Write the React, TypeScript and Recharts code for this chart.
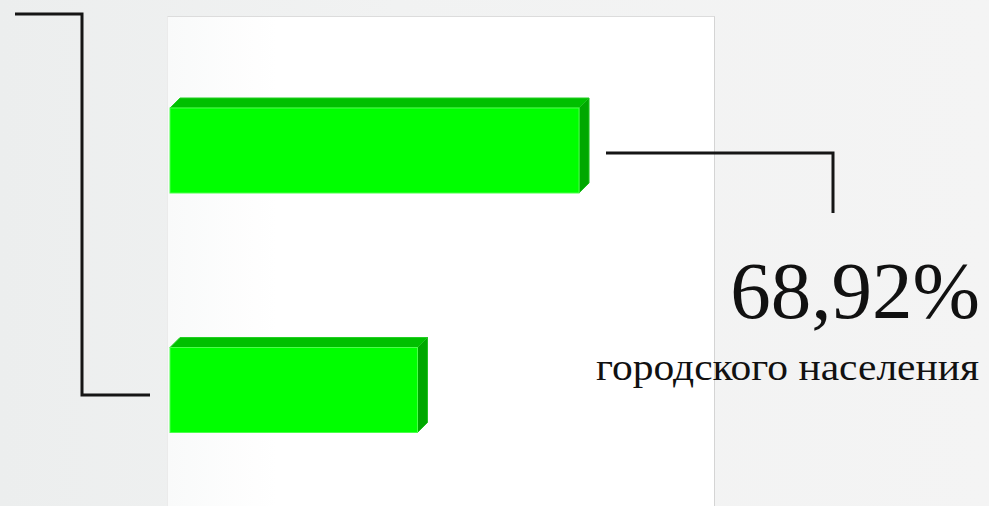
import { Bar, BarChart, XAxis, YAxis } from "recharts";

const categories = ["городское население", "сельское население"];
const shares = [68.92, 41.7];
const axisDomain = [0, 92];

const data = categories.map((name, i) => ({ name, value: shares[i] }));

const headline = `${shares[0].toFixed(2).replace(".", ",")}%`;

function Bar3D(props: any) {
  const { x, y, width, height } = props;
  const d = 10;
  return (
    <g>
      <path
        d={`M${x},${y} L${x + d},${y - d} L${x + width + d},${y - d} L${x + width},${y} Z`}
        fill="#00c000"
        stroke="#22d022"
        strokeWidth={1}
      />
      <path
        d={`M${x + width},${y} L${x + width + d},${y - d} L${x + width + d},${y + height - d} L${x + width},${y + height} Z`}
        fill="#00a800"
        stroke="#22c022"
        strokeWidth={1}
      />
      <rect x={x} y={y} width={width} height={height} fill="#00ff00" stroke="#4cff4c" strokeWidth={1} />
    </g>
  );
}

export default function App() {
  return (
    <div
      style={{
        position: "fixed",
        left: 0,
        top: 0,
        width: 989,
        height: 506,
        overflow: "hidden",
        background: "linear-gradient(90deg, #eceeee 0%, #f1f2f2 40%, #f4f4f4 100%)",
      }}
    >
      <div
        style={{
          position: "absolute",
          left: 167,
          top: 16,
          width: 546,
          height: 500,
          background: "linear-gradient(90deg, #f9fafa 0%, #ffffff 20%)",
          borderTop: "1px solid #dcdcdc",
          borderRight: "1px solid #d4d4d4",
          borderLeft: "1px solid #ebebeb",
        }}
      />
      <div style={{ position: "absolute", left: 0, top: 0 }}>
        <BarChart
          width={989}
          height={510}
          data={data}
          layout="vertical"
          margin={{ top: 31, right: 273, bottom: 0, left: 170 }}
        >
          <XAxis type="number" domain={axisDomain} hide />
          <YAxis type="category" dataKey="name" hide />
          <Bar dataKey="value" barSize={85} shape={<Bar3D />} isAnimationActive={false} />
        </BarChart>
      </div>
      <svg
        width={989}
        height={506}
        style={{ position: "absolute", left: 0, top: 0, pointerEvents: "none" }}
      >
        <polyline points="15,14 82,14 82,395 150,395" fill="none" stroke="#151515" strokeWidth={3} />
        <polyline points="606,153 833,153 833,213" fill="none" stroke="#151515" strokeWidth={3} />
        <text
          x={980}
          y={318}
          textAnchor="end"
          fontFamily="'Liberation Serif', serif"
          fontSize={81}
          fill="#111"
        >
          {headline}
        </text>
        <text
          x={979}
          y={380}
          textAnchor="end"
          fontFamily="'Liberation Serif', serif"
          fontSize={37}
          fill="#111"
          textLength={383}
          lengthAdjust="spacingAndGlyphs"
        >
          городского населения
        </text>
      </svg>
    </div>
  );
}
